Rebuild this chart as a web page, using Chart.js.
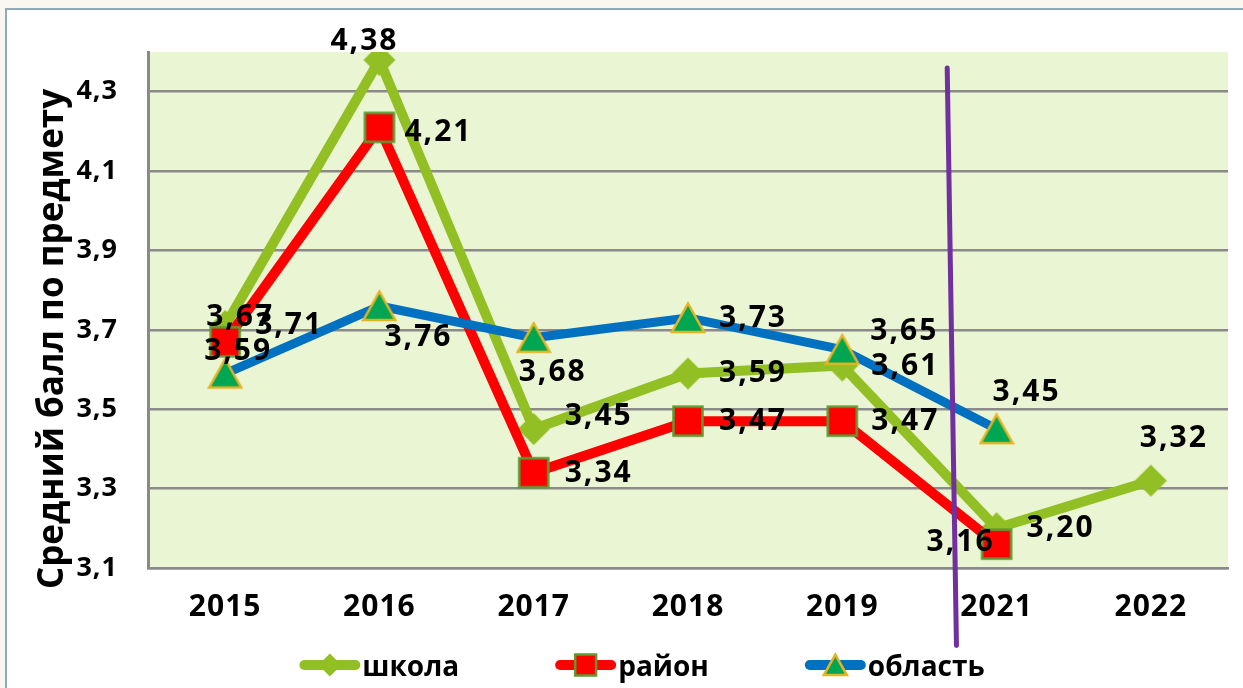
<!DOCTYPE html>
<html>
<head>
<meta charset="utf-8">
<script src="https://cdn.jsdelivr.net/npm/chart.js@4.4.0/dist/chart.umd.min.js"></script>
<style>
  html, body { margin: 0; padding: 0; background: #faf7f0; overflow: hidden; }
  #frame { position: absolute; left: 5px; top: 8px; width: 1300px; height: 800px; background: #fff;
           border-left: 2px solid #8fa9b9; border-top: 2px solid #8fa9b9; }
  #chart { position: absolute; left: 0; top: 0; }
</style>
</head>
<body>
<div id="frame"></div>
<canvas id="chart" width="1243" height="688"></canvas>
<script>
const years = ['2015', '2016', '2017', '2018', '2019', '2021', '2022'];
const school = [3.71, 4.38, 3.45, 3.59, 3.61, 3.20, 3.32];
const district = [3.67, 4.21, 3.34, 3.47, 3.47, 3.16, null];
const region = [3.59, 3.76, 3.68, 3.73, 3.65, 3.45, null];
const yTicks = [3.1, 3.3, 3.5, 3.7, 3.9, 4.1, 4.3];
const seriesNames = ['школа', 'район', 'область'];
const axisTitle = 'Средний балл по предмету';

// purple divider between 2019 and 2021 (category index, value)
const dividerFrom = [4.68, 4.36];
const dividerTo = [4.74, 2.905];

// where each value label sits relative to its point, px
const labelShift = [
    [[64, 0], [-15, -18], [65, -13], [65, 0], [63, 1], [64, 0], [23, -42]],
    [[15, -24], [59, 5], [65, 1], [65, 0], [63, 0], [-36, -2]],
    [[13, -22], [39, 31], [19, 35], [65, 1], [62, -18], [30, -37]]
];

const GREEN = '#92c024', RED = '#ff0000', BLUE = '#0070c0';
const FONT = "'Open Sans', sans-serif";

function drawMarker(ctx, kind, cx, cy, s) {
    ctx.save();
    ctx.beginPath();
    if (kind === 'diamond') {
        ctx.moveTo(cx, cy - 16 * s);
        ctx.lineTo(cx + 16 * s, cy);
        ctx.lineTo(cx, cy + 16 * s);
        ctx.lineTo(cx - 16 * s, cy);
        ctx.closePath();
        ctx.fillStyle = GREEN;
        ctx.fill();
    } else if (kind === 'square') {
        ctx.rect(cx - 14.5 * s, cy - 14.5 * s, 29 * s, 29 * s);
        ctx.fillStyle = RED;
        ctx.fill();
        ctx.lineWidth = 2.5;
        ctx.strokeStyle = '#5d9b32';
        ctx.stroke();
    } else {
        ctx.moveTo(cx, cy - 14.5 * s);
        ctx.lineTo(cx + 16 * s, cy + 14 * s);
        ctx.lineTo(cx - 16 * s, cy + 14 * s);
        ctx.closePath();
        ctx.fillStyle = '#00a651';
        ctx.fill();
        ctx.lineWidth = 2.5;
        ctx.strokeStyle = '#e6b422';
        ctx.stroke();
    }
    ctx.restore();
}

function markerImage(kind) {
    const c = document.createElement('canvas');
    c.width = 36;
    c.height = 36;
    drawMarker(c.getContext('2d'), kind, 18, 18, 1);
    return c;
}

const markerKinds = ['diamond', 'square', 'triangle'];

const plotBg = {
    id: 'plotBg',
    beforeDraw(chart) {
        const { ctx, chartArea: a } = chart;
        ctx.save();
        ctx.fillStyle = '#eaf5d3';
        ctx.fillRect(a.left, a.top, a.right - a.left, a.bottom - a.top);
        ctx.restore();
        ctx.letterSpacing = '1px';
    }
};

const valueLabels = {
    id: 'valueLabels',
    afterDatasetsDraw(chart) {
        const ctx = chart.ctx;
        const x = chart.scales.x, y = chart.scales.y;
        ctx.save();
        ctx.strokeStyle = '#7030a0';
        ctx.lineWidth = 5;
        ctx.lineCap = 'round';
        ctx.beginPath();
        ctx.moveTo(x.getPixelForValue(dividerFrom[0]), y.getPixelForValue(dividerFrom[1]));
        ctx.lineTo(x.getPixelForValue(dividerTo[0]), y.getPixelForValue(dividerTo[1]));
        ctx.stroke();

        ctx.font = 'bold 30px ' + FONT;
        ctx.letterSpacing = '2px';
        ctx.fillStyle = '#000';
        ctx.textAlign = 'center';
        ctx.textBaseline = 'middle';
        chart.data.datasets.forEach((ds, i) => {
            const meta = chart.getDatasetMeta(i);
            ds.data.forEach((v, j) => {
                if (v === null) return;
                const p = meta.data[j];
                const [dx, dy] = labelShift[i][j];
                ctx.fillText(v.toFixed(2).replace('.', ','), p.x + dx, p.y + dy);
            });
        });
        ctx.restore();
    }
};

const extras = {
    id: 'extras',
    afterDraw(chart) {
        const ctx = chart.ctx;
        ctx.letterSpacing = '0px';
        ctx.save();
        // axis title
        ctx.translate(63, 339);
        ctx.rotate(-Math.PI / 2);
        ctx.font = 'bold 35px ' + FONT;
        ctx.fillStyle = '#000';
        ctx.textAlign = 'center';
        ctx.textBaseline = 'alphabetic';
        ctx.fillText(axisTitle, 0, 0);
        ctx.restore();

        // legend: line with marker, then the name
        ctx.save();
        ctx.font = 'bold 28px ' + FONT;
        const lineLen = 61, gapText = 2, gapItem = 96;
        const widths = seriesNames.map(n => lineLen + gapText + ctx.measureText(n).width);
        const total = widths.reduce((s, w) => s + w, 0) + gapItem * (widths.length - 1);
        let x = 642 - total / 2;
        const y = 665;
        chart.data.datasets.forEach((ds, i) => {
            ctx.strokeStyle = ds.borderColor;
            ctx.lineWidth = 10;
            ctx.lineCap = 'round';
            ctx.beginPath();
            ctx.moveTo(x + 5, y);
            ctx.lineTo(x + lineLen - 5, y);
            ctx.stroke();
            drawMarker(ctx, markerKinds[i], x + lineLen / 2, y, 0.72);
            ctx.fillStyle = '#000';
            ctx.textAlign = 'left';
            ctx.textBaseline = 'alphabetic';
            ctx.fillText(seriesNames[i], x + lineLen + gapText, y + 11);
            x += widths[i] + gapItem;
        });
        ctx.restore();
    }
};

const base = {
    borderJoinStyle: 'round',
    borderCapStyle: 'round',
    fill: false,
    tension: 0,
    pointRadius: 15,
    spanGaps: false
};

new Chart(document.getElementById('chart'), {
    type: 'line',
    data: {
        labels: years,
        datasets: [
            { ...base, label: seriesNames[0], data: school, borderColor: GREEN, borderWidth: 10,
              pointStyle: markerImage('diamond'), order: 3 },
            { ...base, label: seriesNames[1], data: district, borderColor: RED, borderWidth: 10,
              pointStyle: markerImage('square'), order: 2 },
            { ...base, label: seriesNames[2], data: region, borderColor: BLUE, borderWidth: 9,
              pointStyle: markerImage('triangle'), order: 1 }
        ]
    },
    options: {
        responsive: false,
        animation: false,
        layout: { autoPadding: false, padding: { left: 0, top: 52, right: 15, bottom: 63 } },
        plugins: { legend: { display: false }, tooltip: { enabled: false } },
        scales: {
            x: {
                offset: true,
                grid: { display: false, drawTicks: false, offset: true },
                border: { display: true, color: '#8a8a8a', width: 2.5 },
                ticks: { color: '#000', padding: 21, font: { family: FONT, size: 30, weight: 'bold' } },
                afterFit(scale) { scale.height = 57; }
            },
            y: {
                min: 3.1,
                max: 4.4,
                afterBuildTicks(scale) { scale.ticks = yTicks.map(v => ({ value: v })); },
                grid: { color: '#8a8a8a', lineWidth: 2.5, drawTicks: false },
                border: { display: true, color: '#8a8a8a', width: 3 },
                ticks: {
                    color: '#000', padding: 30,
                    font: { family: FONT, size: 27, weight: 'bold' },
                    callback: v => v.toFixed(1).replace('.', ',')
                },
                afterFit(scale) { scale.width = 148; }
            }
        }
    },
    plugins: [plotBg, valueLabels, extras]
});
</script>
</body>
</html>
